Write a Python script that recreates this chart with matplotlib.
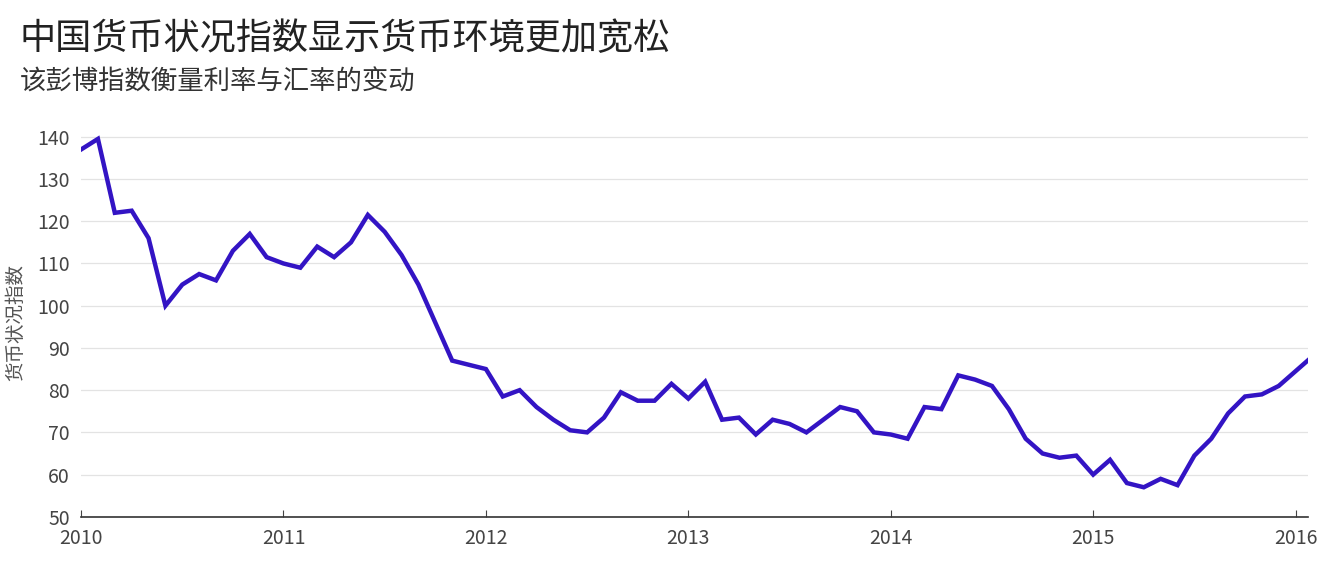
import matplotlib.pyplot as plt
import numpy as np

plt.rcParams['font.family'] = ['Noto Sans CJK SC', 'Noto Sans CJK JP', 'Noto Sans CJK TC',
                               'Noto Sans CJK KR', 'DejaVu Sans']

START_YEAR = 2010
VALUES = [
    137, 139.5, 122, 122.5, 116, 100, 105, 107.5, 106, 113, 117, 111.5,   # 2010
    110, 109, 114, 111.5, 115, 121.5, 117.5, 112, 105, 96, 87, 86,        # 2011
    85, 78.5, 80, 76, 73, 70.5, 70, 73.5, 79.5, 77.5, 77.5, 81.5,         # 2012
    78, 82, 73, 73.5, 69.5, 73, 72, 70, 73, 76, 75, 70,                   # 2013
    69.5, 68.5, 76, 75.5, 83.5, 82.5, 81, 75.5, 68.5, 65, 64, 64.5,       # 2014
    60, 63.5, 58, 57, 59, 57.5, 64.5, 68.5, 74.5, 78.5, 79, 81,           # 2015
    84.5, 88,                                                             # 2016
]
X_TICKS = [2010, 2011, 2012, 2013, 2014, 2015, 2016]
Y_TICKS = [50, 60, 70, 80, 90, 100, 110, 120, 130, 140]

TITLE = '中国货币状况指数显示货币环境更加宽松'
SUBTITLE = '该彭博指数衡量利率与汇率的变动'
YLABEL = '货币状况指数'

x = START_YEAR + np.arange(len(VALUES)) / 12

fig = plt.figure(figsize=(13.29, 5.63), dpi=100)
ax = fig.add_axes([0.061, 0.082, 0.923, 0.69])
ax.plot(x, VALUES, color='#3314c4', linewidth=3.2, solid_joinstyle='miter', zorder=3)

ax.set_xlim(2010, 2016.06)
ax.set_ylim(50, 142)
ax.set_xticks(X_TICKS)
ax.set_yticks(Y_TICKS)
ax.grid(axis='y', color='#e3e3e3', linewidth=0.9, zorder=0)
for s in ['top', 'right', 'left']:
    ax.spines[s].set_visible(False)
ax.spines['bottom'].set_color('#333333')
ax.spines['bottom'].set_linewidth(1.2)
ax.tick_params(axis='y', length=0, labelsize=14, colors='#444444', pad=8)
ax.tick_params(axis='x', length=5, direction='in', labelsize=14, colors='#444444', pad=8)
ax.set_ylabel(YLABEL, fontsize=14, color='#555555', labelpad=8)

fig.text(0.015, 0.93, TITLE, fontsize=26, color='#222222', va='center')
fig.text(0.015, 0.855, SUBTITLE, fontsize=19, color='#333333', va='center')

fig.savefig('out.png', dpi=100)
